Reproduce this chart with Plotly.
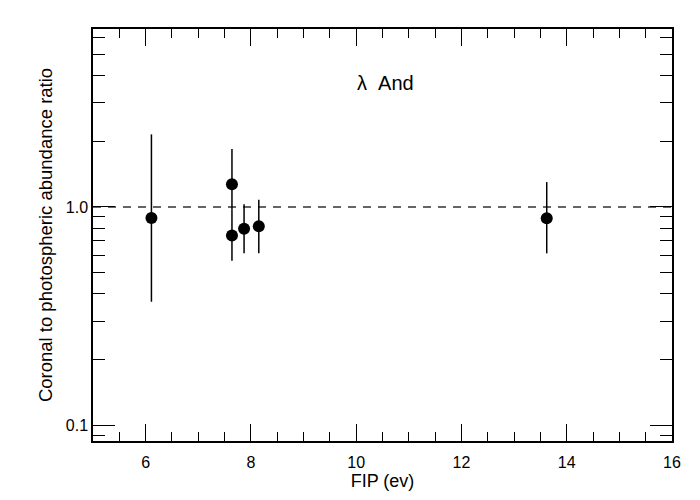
import math
import plotly.graph_objects as go

# FIP (eV) of each element and coronal/photospheric abundance ratio
fip = [6.11, 7.64, 7.64, 7.87, 8.15, 13.62]
ratio = [0.89, 1.27, 0.74, 0.795, 0.815, 0.887]
err_hi = [2.15, 1.84, 0.97, 1.03, 1.08, 1.30]
err_lo = [0.368, 0.97, 0.567, 0.613, 0.613, 0.613]

plus = [h - r for h, r in zip(err_hi, ratio)]
minus = [r - l for r, l in zip(ratio, err_lo)]

font = "Liberation Sans, Arial, Helvetica, sans-serif"

fig = go.Figure()
fig.add_trace(go.Scatter(
    x=fip, y=ratio, mode="markers",
    marker=dict(color="black", size=12),
    error_y=dict(type="data", array=plus, arrayminus=minus,
                 color="black", thickness=1.5, width=0),
    showlegend=False,
))

# reference line at ratio = 1
fig.add_shape(type="line", xref="paper", x0=0, x1=1, yref="y", y0=1, y1=1,
              line=dict(color="#333333", width=1.5, dash="8px,7px"), layer="below")

# annotation y on a log axis is given as log10 of the value
fig.add_annotation(x=10.55, y=math.log10(3.7), text="λ  And", showarrow=False,
                   font=dict(size=20, color="black", family=font))

fig.update_xaxes(
    range=[5, 16], tickvals=[6, 8, 10, 12, 14, 16],
    ticks="inside", ticklen=17, tickwidth=1.2, tickcolor="black",
    minor=dict(tickvals=[5.5, 6.5, 7, 7.5, 8.5, 9, 9.5, 10.5, 11, 11.5,
                         12.5, 13, 13.5, 14.5, 15, 15.5],
               ticks="inside", ticklen=9, tickwidth=1.2, tickcolor="black"),
    showline=True, linecolor="black", linewidth=1.5, mirror="allticks",
    showgrid=False, zeroline=False, ticklabelstandoff=6,
    title=dict(text="FIP (ev)", standoff=3, font=dict(size=18, family=font)),
    tickfont=dict(size=16, family=font, color="black"),
)
fig.update_yaxes(
    type="log", range=[-1.072, 0.815],
    tickvals=[0.1, 1], ticktext=["0.1", "1.0"],
    ticks="inside", ticklen=22, tickwidth=1.2, tickcolor="black",
    minor=dict(tickvals=[0.09, 0.2, 0.3, 0.4, 0.5, 0.6, 0.7, 0.8, 0.9,
                         2, 3, 4, 5, 6],
               ticks="inside", ticklen=12, tickwidth=1.2, tickcolor="black"),
    showline=True, linecolor="black", linewidth=1.5, mirror="allticks",
    showgrid=False, zeroline=False,
    title=dict(text="Coronal to photospheric abundance ratio", standoff=8,
               font=dict(size=18.5, family=font)),
    tickfont=dict(size=16, family=font, color="black"),
)
fig.update_layout(
    width=692, height=492,
    margin=dict(l=85, r=28, t=21, b=59),
    plot_bgcolor="white", paper_bgcolor="white",
    font=dict(family=font, color="black"),
)

fig.write_html("out.html")
